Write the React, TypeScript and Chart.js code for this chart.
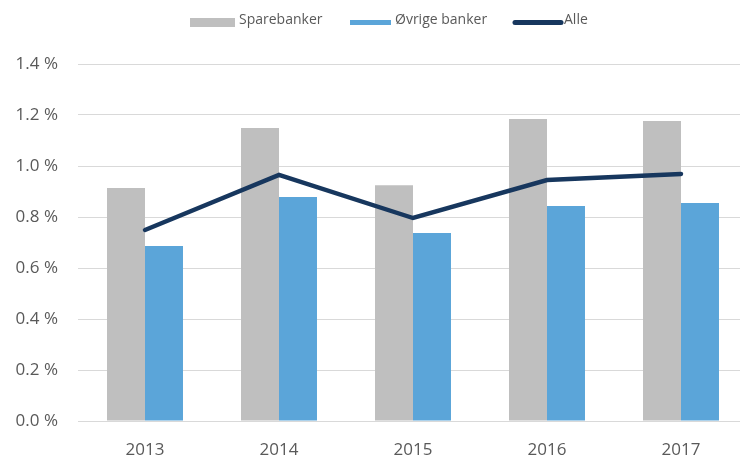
import React, { useEffect, useRef } from "react";
import { Chart, registerables } from "chart.js";

Chart.register(...registerables);

const years = ["2013", "2014", "2015", "2016", "2017"];
const sparebanker = [0.914, 1.149, 0.925, 1.184, 1.176];
const ovrige = [0.686, 0.878, 0.737, 0.843, 0.855];
const alle = [0.749, 0.965, 0.796, 0.945, 0.969];

const FONT = "'Open Sans', sans-serif";
const TEXT = "#595959";

const legendPlugin = {
  id: "customLegend",
  afterDraw(chart: any) {
    const ctx = chart.ctx;
    const ds = chart.data.datasets;
    const find = (l: string) => ds.find((d: any) => d.label === l);
    const items = [
      { ds: find("Sparebanker"), x0: 190, x1: 235, h: 9, tx: 239, kind: "box" },
      { ds: find("Øvrige banker"), x0: 350, x1: 391, h: 5, tx: 395, kind: "box" },
      { ds: find("Alle"), x0: 515, x1: 561, h: 5, tx: 564, kind: "line" },
    ];
    const cy = 22.5;
    ctx.save();
    ctx.font = `14px ${FONT}`;
    ctx.textBaseline = "alphabetic";
    ctx.textAlign = "left";
    for (const it of items) {
      if (it.kind === "box") {
        ctx.fillStyle = it.ds.backgroundColor;
        ctx.fillRect(it.x0, cy - it.h / 2, it.x1 - it.x0, it.h);
      } else {
        ctx.strokeStyle = it.ds.borderColor;
        ctx.lineWidth = it.h;
        ctx.lineCap = "round";
        ctx.beginPath();
        ctx.moveTo(it.x0, cy);
        ctx.lineTo(it.x1, cy);
        ctx.stroke();
      }
      ctx.fillStyle = TEXT;
      ctx.fillText(it.ds.label, it.tx, 24);
    }
    ctx.restore();
  },
};

export default function App() {
  const ref = useRef<HTMLCanvasElement>(null);
  useEffect(() => {
    if (!ref.current) return;
    const chart = new Chart(ref.current, {
      type: "bar",
      data: {
        labels: years,
        datasets: [
          {
            type: "line",
            label: "Alle",
            data: alle,
            borderColor: "#17375e",
            backgroundColor: "#17375e",
            borderWidth: 4.5,
            borderCapStyle: "round",
            pointRadius: 0,
            tension: 0,
            order: 0,
          },
          {
            label: "Sparebanker",
            data: sparebanker,
            backgroundColor: "#bfbfbf",
            categoryPercentage: 0.567,
            barPercentage: 1,
            order: 1,
          },
          {
            label: "Øvrige banker",
            data: ovrige,
            backgroundColor: "#5ba5d9",
            categoryPercentage: 0.567,
            barPercentage: 1,
            order: 1,
          },
        ] as any,
      },
      options: {
        animation: false,
        responsive: false,
        maintainAspectRatio: false,
        layout: { padding: { top: 64, bottom: 0, left: 0, right: 0 } },
        plugins: {
          tooltip: { enabled: false },
          legend: { display: false },
        },
        scales: {
          x: {
            grid: { display: false, drawTicks: false },
            border: { display: true, color: "#d9d9d9" },
            ticks: { color: TEXT, font: { family: FONT, size: 17 }, padding: 19, maxRotation: 0 },
            afterFit: (s: any) => {
              s.height = 36;
            },
          },
          y: {
            min: 0,
            max: 1.4,
            grid: { color: "#d9d9d9", drawTicks: false },
            border: { display: false },
            ticks: {
              stepSize: 0.2,
              padding: 20,
              color: TEXT,
              font: { family: FONT, size: 17 },
              callback: (v: any) => Number(v).toFixed(1) + " %",
            },
            afterFit: (s: any) => {
              s.width = 78;
            },
          },
        },
      },
      plugins: [legendPlugin],
    });
    return () => chart.destroy();
  }, []);
  return (
    <div style={{ position: "fixed", left: 0, top: 0, width: 740, height: 457, overflow: "hidden", background: "#fff" }}>
      <canvas ref={ref} width={748} height={457} style={{ display: "block" }} />
    </div>
  );
}
